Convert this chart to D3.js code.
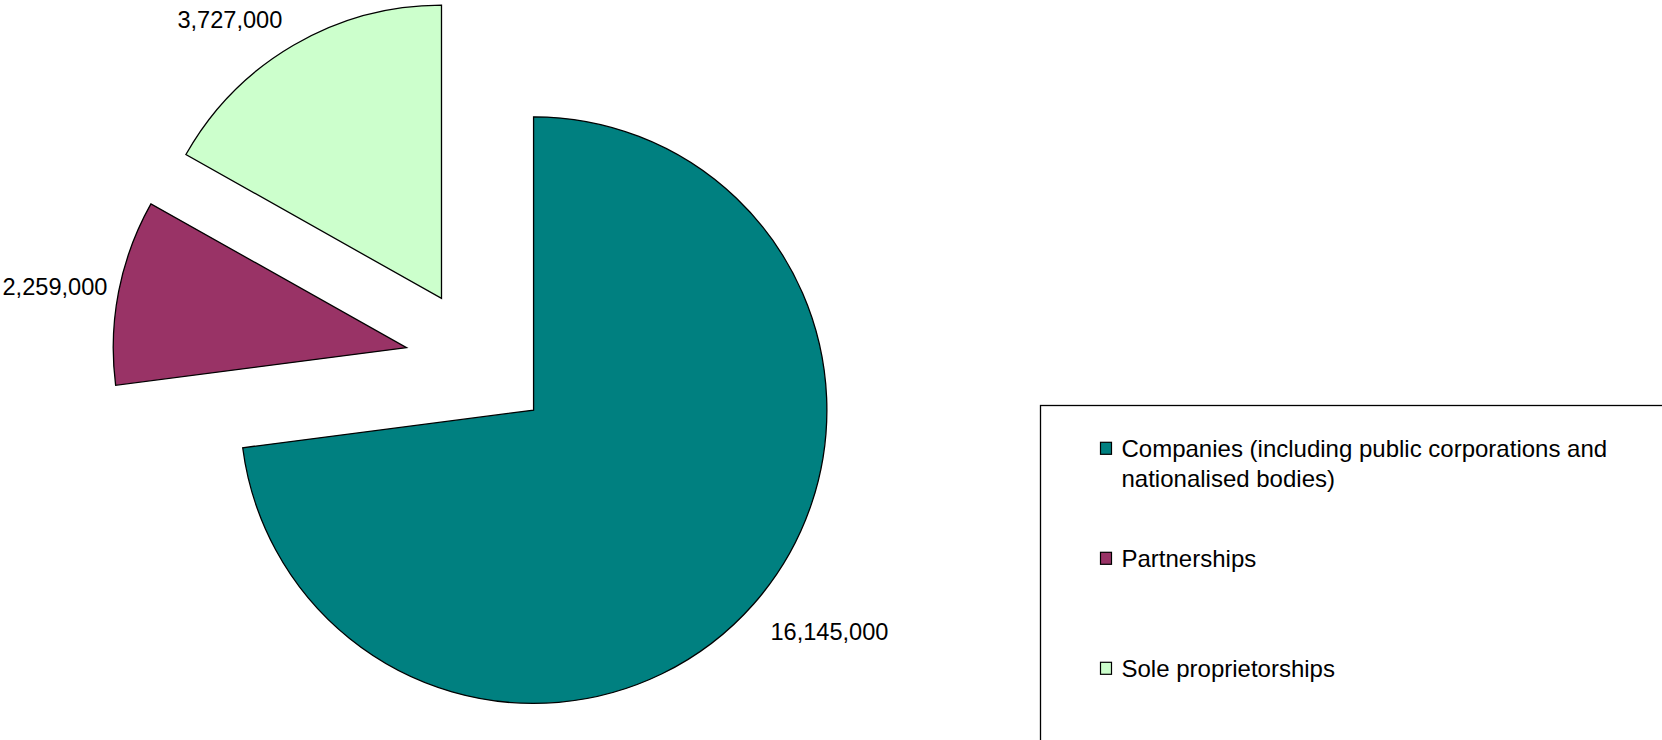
<!DOCTYPE html>
<html>
<head>
<meta charset="utf-8">
<script src="https://cdn.jsdelivr.net/npm/d3@7/dist/d3.min.js"></script>
<style>
  html, body { margin: 0; padding: 0; background: #ffffff; }
  svg { display: block; }
  text { font-family: Arial, "Liberation Sans", sans-serif; fill: #000; }
</style>
</head>
<body>
<svg id="chart" width="1662" height="740"></svg>
<script>
// Business types and their totals
const categories = [
  "Companies (including public corporations and nationalised bodies)",
  "Partnerships",
  "Sole proprietorships"
];
const values = [16145000, 2259000, 3727000];
const colors = ["#008080", "#993366", "#CCFFCC"];

const W = 1662, H = 740;
const svg = d3.select("#chart");

// Pie geometry
const cx = 478.5, cy = 361.7;
const radius = 293.3;
const explode = 0.25 * radius;   // every slice pulled out by a quarter radius
const labelSize = 23.6;
const legendSize = 24;

const pie = d3.pie().sort(null).value(d => d.value).startAngle(0).endAngle(2 * Math.PI);
const arc = d3.arc().innerRadius(0).outerRadius(radius);
const fmt = d3.format(",");

const data = categories.map((c, i) => ({ name: c, value: values[i], color: colors[i] }));
const arcs = pie(data);

const gPie = svg.append("g").attr("transform", `translate(${cx},${cy})`);

gPie.selectAll("path.slice")
  .data(arcs)
  .join("path")
  .attr("class", "slice")
  .attr("transform", d => {
    const a = (d.startAngle + d.endAngle) / 2;
    return `translate(${explode * Math.sin(a)},${-explode * Math.cos(a)})`;
  })
  .attr("d", arc)
  .attr("fill", d => d.data.color)
  .attr("stroke", "#000")
  .attr("stroke-width", 1.3)
  .attr("stroke-linejoin", "miter");

// Value labels outside each slice, kept inside the drawing area
const gLab = svg.append("g");
arcs.forEach(d => {
  const a = (d.startAngle + d.endAngle) / 2;
  const s = Math.sin(a), c = Math.cos(a);
  const t = gLab.append("text")
    .attr("font-size", labelSize)
    .attr("text-anchor", "middle")
    .text(fmt(d.data.value));
  const w = t.node().getComputedTextLength();
  const ax = cx + explode * s, ay = cy - explode * c;
  const ex = ax + (radius + 22) * s, ey = ay - (radius + 22) * c;
  let lx = ex + Math.sign(s) * w / 2;
  let ly = ey - c * Math.abs(c) * 31;
  lx = Math.max(lx, 2.5 + w / 2);
  lx = Math.min(lx, W - 2.5 - w / 2);
  ly = Math.max(ly, 20);
  t.attr("x", lx).attr("y", ly + 0.358 * labelSize);
});

// Legend box
const lgX = 1040.5, lgY = 405.5;
svg.append("rect")
  .attr("x", lgX).attr("y", lgY)
  .attr("width", 700).attr("height", 420)
  .attr("fill", "#fff")
  .attr("stroke", "#000")
  .attr("stroke-width", 1.3);

const firstBaseline = 457.3, itemStep = 110, lineH = 30, maxTextW = 505;
const gLeg = svg.append("g");
data.forEach((d, i) => {
  const base = firstBaseline + i * itemStep;
  gLeg.append("rect")
    .attr("x", 1100.5).attr("y", base - 15)
    .attr("width", 11).attr("height", 12)
    .attr("fill", d.color)
    .attr("stroke", "#000")
    .attr("stroke-width", 1.2);
  const t = gLeg.append("text")
    .attr("x", 1121.5).attr("y", base)
    .attr("font-size", legendSize);
  // wrap the entry text onto several lines
  const words = d.name.split(" ");
  let line = [];
  let tspan = t.append("tspan").attr("x", 1121.5).attr("y", base);
  let lineNo = 0;
  words.forEach(word => {
    line.push(word);
    tspan.text(line.join(" "));
    if (tspan.node().getComputedTextLength() > maxTextW && line.length > 1) {
      line.pop();
      tspan.text(line.join(" "));
      line = [word];
      lineNo++;
      tspan = t.append("tspan").attr("x", 1121.5).attr("y", base + lineNo * lineH).text(word);
    }
  });
});
</script>
</body>
</html>
